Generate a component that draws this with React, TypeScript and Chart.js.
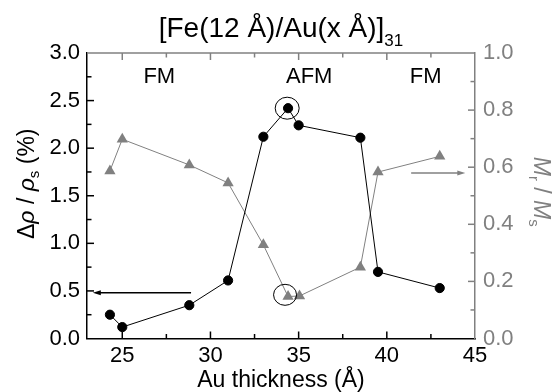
import React, { useEffect, useRef } from "react";
import { Chart, registerables } from "chart.js";

Chart.register(...registerables);

// ---------- data ----------
const AU_THICKNESS = [24.3, 25.0, 28.8, 31.0, 33.0, 34.4, 35.0, 38.5, 39.5, 43.0];
const DELTA_RHO = [0.25, 0.12, 0.35, 0.61, 2.12, 2.42, 2.24, 2.11, 0.7, 0.53];
const AU_THICKNESS_M = [24.3, 25.0, 28.8, 31.0, 33.0, 34.4, 35.05, 38.5, 39.5, 43.0];
const MR_MS = [0.587, 0.698, 0.608, 0.545, 0.328, 0.147, 0.149, 0.25, 0.583, 0.638];

const X_TICKS = [25, 30, 35, 40, 45];
const X_MINOR = [27.5, 32.5, 37.5, 42.5];
const Y_TICKS = [0, 0.5, 1.0, 1.5, 2.0, 2.5, 3.0];
const Y_MINOR = [0.25, 0.75, 1.25, 1.75, 2.25, 2.75];
const Y1_TICKS = [0, 0.2, 0.4, 0.6, 0.8, 1.0];
const Y1_MINOR = [0.1, 0.3, 0.5, 0.7, 0.9];

const PHASE_LABELS = ["FM", "AFM", "FM"];
const PHASE_X = [27.1, 35.6, 42.2];
const PHASE_Y = 2.75;

// circled points
const MARK_PEAK = { x: 34.35, y: 2.42 };
const MARK_MIN = { x: 34.23, y: 0.153 };

// arrows (data coords)
const ARROW_LEFT = { x0: 28.9, x1: 23.33, y: 0.482 };
const ARROW_RIGHT = { x0: 41.38, x1: 44.45, y: 0.58 };

const FONT = '"Liberation Sans", Arial, Helvetica, sans-serif';
const GRAY = "#808080";
const FS = 22;
const FS_TITLE = 23;

type Seg = { t: string; italic?: boolean; sub?: boolean };

function drawRich(
  ctx: CanvasRenderingContext2D,
  segs: Seg[],
  x: number,
  y: number,
  size: number,
  subSize: number,
  subDrop: number,
  color: string,
  rotation: number
) {
  ctx.save();
  ctx.translate(x, y);
  ctx.rotate(rotation);
  const fontFor = (s: Seg) =>
    `${s.italic ? "italic " : ""}${s.sub ? subSize : size}px ${FONT}`;
  let total = 0;
  const widths = segs.map((s) => {
    ctx.font = fontFor(s);
    const w = ctx.measureText(s.t).width;
    total += w;
    return w;
  });
  let cx = -total / 2;
  ctx.fillStyle = color;
  ctx.textBaseline = "alphabetic";
  ctx.textAlign = "left";
  segs.forEach((s, i) => {
    ctx.font = fontFor(s);
    ctx.fillText(s.t, cx, s.sub ? subDrop : 0);
    cx += widths[i];
  });
  ctx.restore();
}

const overlay = {
  id: "overlay",
  afterDraw(chart: any) {
    const ctx: CanvasRenderingContext2D = chart.ctx;
    const { left, right, top, bottom } = chart.chartArea;
    const sx = chart.scales.x;
    const sy = chart.scales.y;
    const sy1 = chart.scales.y1;

    ctx.save();
    // top frame line
    ctx.strokeStyle = GRAY;
    ctx.lineWidth = 1.5;
    ctx.beginPath();
    ctx.moveTo(left, top);
    ctx.lineTo(right, top);
    ctx.stroke();

    // tick marks (inward)
    const tick = (x0: number, y0: number, x1: number, y1: number, c: string) => {
      ctx.strokeStyle = c;
      ctx.lineWidth = 1.5;
      ctx.beginPath();
      ctx.moveTo(x0, y0);
      ctx.lineTo(x1, y1);
      ctx.stroke();
    };
    const MAJ = 7;
    const MIN = 4.5;
    X_TICKS.forEach((v) => {
      const p = sx.getPixelForValue(v);
      if (p < right - 1) {
        tick(p, bottom, p, bottom - MAJ, "#000");
        tick(p, top, p, top + MAJ, GRAY);
      }
    });
    X_MINOR.forEach((v) => {
      const p = sx.getPixelForValue(v);
      tick(p, bottom, p, bottom - MIN, "#000");
      tick(p, top, p, top + MIN, GRAY);
    });
    Y_TICKS.forEach((v) => {
      const p = sy.getPixelForValue(v);
      if (p > top + 1 && p < bottom - 1) tick(left, p, left + MAJ, p, "#000");
    });
    Y_MINOR.forEach((v) => {
      const p = sy.getPixelForValue(v);
      tick(left, p, left + MIN, p, "#000");
    });
    Y1_TICKS.forEach((v) => {
      const p = sy1.getPixelForValue(v);
      if (p > top + 1 && p < bottom - 1) tick(right, p, right - MAJ, p, GRAY);
    });
    Y1_MINOR.forEach((v) => {
      const p = sy1.getPixelForValue(v);
      tick(right, p, right - MIN, p, GRAY);
    });

    // ellipses around points
    ctx.strokeStyle = "#000";
    ctx.lineWidth = 1;
    ctx.beginPath();
    ctx.ellipse(sx.getPixelForValue(MARK_PEAK.x), sy.getPixelForValue(MARK_PEAK.y), 12, 11, 0, 0, Math.PI * 2);
    ctx.stroke();
    ctx.beginPath();
    ctx.ellipse(sx.getPixelForValue(MARK_MIN.x), sy1.getPixelForValue(MARK_MIN.y), 11.5, 10.5, 0, 0, Math.PI * 2);
    ctx.stroke();

    // arrows
    const arrow = (xa: number, xb: number, yy: number, c: string) => {
      ctx.strokeStyle = c;
      ctx.fillStyle = c;
      ctx.lineWidth = 1.5;
      const dir = Math.sign(xb - xa);
      ctx.beginPath();
      ctx.moveTo(xa, yy);
      ctx.lineTo(xb - dir * 5, yy);
      ctx.stroke();
      ctx.beginPath();
      ctx.moveTo(xb, yy);
      ctx.lineTo(xb - dir * 8, yy - 2.5);
      ctx.lineTo(xb - dir * 8, yy + 2.5);
      ctx.closePath();
      ctx.fill();
    };
    arrow(sx.getPixelForValue(ARROW_LEFT.x0), sx.getPixelForValue(ARROW_LEFT.x1), sy.getPixelForValue(ARROW_LEFT.y), "#000");
    arrow(sx.getPixelForValue(ARROW_RIGHT.x0), sx.getPixelForValue(ARROW_RIGHT.x1), sy1.getPixelForValue(ARROW_RIGHT.y), GRAY);

    // phase labels
    ctx.fillStyle = "#000";
    ctx.font = `${FS}px ${FONT}`;
    ctx.textAlign = "center";
    ctx.textBaseline = "middle";
    PHASE_LABELS.forEach((t, i) => {
      ctx.fillText(t, sx.getPixelForValue(PHASE_X[i]), sy.getPixelForValue(PHASE_Y));
    });

    // chart title
    drawRich(
      ctx,
      [{ t: "[Fe(12 Å)/Au(x Å)]" }, { t: "31", sub: true }],
      (left + right) / 2,
      37,
      28,
      17,
      9,
      "#000",
      0
    );

    // left axis title
    drawRich(
      ctx,
      [
        { t: "Δ" },
        { t: "ρ", italic: true },
        { t: " / " },
        { t: "ρ", italic: true },
        { t: "s", sub: true },
        { t: " (%)" },
      ],
      34,
      (top + bottom) / 2 - 12,
      FS_TITLE,
      15,
      5,
      "#000",
      -Math.PI / 2
    );

    // right axis title
    drawRich(
      ctx,
      [
        { t: "M", italic: true },
        { t: "r", sub: true },
        { t: " / " },
        { t: "M", italic: true },
        { t: "s", sub: true },
      ],
      534,
      (top + bottom) / 2 - 4,
      FS_TITLE,
      15,
      5,
      GRAY,
      Math.PI / 2
    );

    // x axis title
    ctx.fillStyle = "#000";
    ctx.font = `${FS_TITLE}px ${FONT}`;
    ctx.textAlign = "center";
    ctx.textBaseline = "alphabetic";
    ctx.fillText("Au thickness (Å)", (left + right) / 2, 387);

    ctx.restore();
  },
};

export default function App() {
  const ref = useRef<HTMLCanvasElement>(null);

  useEffect(() => {
    const canvas = ref.current;
    if (!canvas) return;
    const chart = new Chart(canvas, {
      type: "scatter",
      data: {
        datasets: [
          {
            label: "Δρ/ρs",
            data: AU_THICKNESS.map((x, i) => ({ x, y: DELTA_RHO[i] })),
            yAxisID: "y",
            showLine: true,
            borderColor: "#000",
            backgroundColor: "#000",
            borderWidth: 1,
            pointRadius: 4.6,
            pointBorderWidth: 1,
            pointStyle: "circle",
          },
          {
            label: "Mr/Ms",
            data: AU_THICKNESS_M.map((x, i) => ({ x, y: MR_MS[i] })),
            yAxisID: "y1",
            showLine: true,
            borderColor: GRAY,
            backgroundColor: GRAY,
            borderWidth: 1,
            pointRadius: 6.5,
            pointBorderWidth: 0,
            pointStyle: "triangle",
          },
        ],
      } as any,
      options: {
        responsive: false,
        animation: false,
        devicePixelRatio: 1,
        layout: { padding: { top: 53, left: 0, right: 0, bottom: 0 } },
        plugins: {
          legend: { display: false },
          tooltip: { enabled: false },
          title: { display: false },
        },
        scales: {
          x: {
            type: "linear",
            position: "bottom",
            min: 23,
            max: 45,
            grid: { display: false, drawTicks: false },
            border: { display: true, color: "#000", width: 1.5 },
            ticks: {
              color: "#000",
              font: { size: FS, family: FONT },
              padding: 4,
              maxRotation: 0,
              callback: (v: any) => String(v),
            },
            afterBuildTicks: (s: any) => {
              s.ticks = X_TICKS.map((v) => ({ value: v }));
            },
            afterFit: (s: any) => {
              s.height = 53.5;
            },
          },
          y: {
            type: "linear",
            position: "left",
            min: 0,
            max: 3,
            grid: { display: false, drawTicks: false },
            border: { display: true, color: "#000", width: 1.5 },
            ticks: {
              color: "#000",
              font: { size: FS, family: FONT },
              padding: 7,
              callback: (v: any) => Number(v).toFixed(1),
            },
            afterBuildTicks: (s: any) => {
              s.ticks = Y_TICKS.map((v) => ({ value: v }));
            },
            afterFit: (s: any) => {
              s.width = 87;
            },
          },
          y1: {
            type: "linear",
            position: "right",
            min: 0,
            max: 1,
            grid: { display: false, drawTicks: false },
            border: { display: true, color: GRAY, width: 1.5 },
            ticks: {
              color: GRAY,
              font: { size: FS, family: FONT },
              padding: 8,
              callback: (v: any) => Number(v).toFixed(1),
            },
            afterBuildTicks: (s: any) => {
              s.ticks = Y1_TICKS.map((v) => ({ value: v }));
            },
            afterFit: (s: any) => {
              s.width = 77;
            },
          },
        },
      } as any,
      plugins: [overlay],
    });
    return () => chart.destroy();
  }, []);

  return (
    <div style={{ position: "absolute", left: 0, top: 0, width: 552, height: 392, background: "#fff" }}>
      <canvas ref={ref} width={552} height={392} style={{ display: "block", width: 552, height: 392 }} />
    </div>
  );
}
